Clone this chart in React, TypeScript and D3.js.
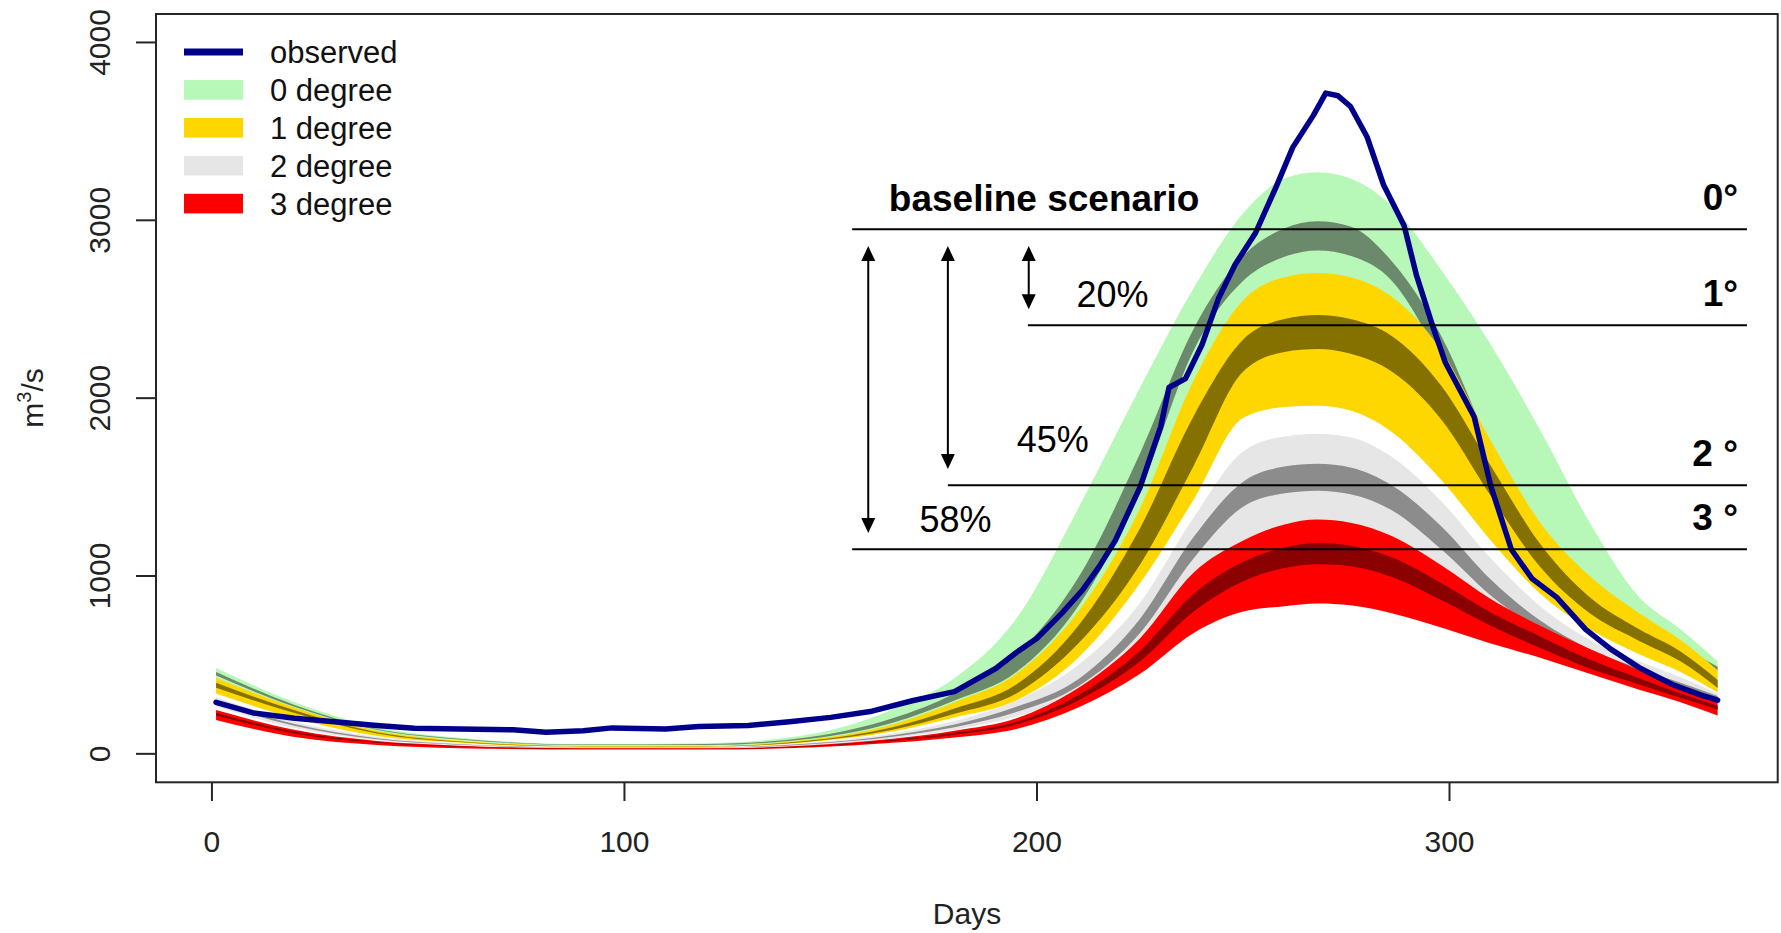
import React from "react";
import * as d3 from "d3";

// day of year at which the scenario band edges were read
const bandDays = [1, 20, 40, 60, 90, 120, 145, 165, 180, 195, 210, 225, 238, 250, 260, 268, 276, 286, 298, 310, 322, 334, 346, 356, 365];

const deg0Upper = [483, 290, 150, 90, 55, 60, 110, 250, 425, 760, 1380, 2060, 2620, 3040, 3235, 3270, 3235, 3080, 2720, 2300, 1820, 1300, 880, 700, 520];
const deg0InnerUpper = [460, 275, 140, 85, 52, 55, 95, 200, 340, 560, 990, 1690, 2390, 2800, 2955, 2995, 2965, 2770, 2350, 1725, 1180, 900, 730, 605, 490];
const deg0InnerLower = [440, 265, 135, 80, 50, 50, 85, 175, 300, 460, 830, 1480, 2270, 2660, 2795, 2830, 2800, 2660, 2200, 1580, 1060, 840, 690, 575, 470];
const deg0Lower = [420, 250, 125, 75, 45, 45, 75, 150, 260, 400, 700, 1250, 1980, 2390, 2520, 2550, 2520, 2390, 1980, 1420, 980, 780, 650, 545, 450];

const deg1Upper = [427, 260, 130, 75, 45, 45, 80, 165, 290, 450, 800, 1380, 2100, 2550, 2680, 2703, 2680, 2570, 2270, 1760, 1300, 1000, 790, 640, 470];
const deg1InnerUpper = [400, 245, 122, 70, 43, 43, 75, 150, 255, 390, 720, 1270, 1900, 2330, 2445, 2467, 2445, 2350, 2070, 1620, 1180, 880, 700, 575, 415];
const deg1InnerLower = [371, 230, 115, 66, 41, 41, 70, 135, 225, 340, 620, 1065, 1620, 2150, 2260, 2276, 2250, 2150, 1880, 1450, 1050, 790, 635, 520, 370];
const deg1Lower = [340, 200, 100, 62, 40, 40, 66, 125, 205, 300, 540, 960, 1430, 1890, 1950, 1957, 1930, 1810, 1540, 1200, 900, 700, 560, 460, 345];

const deg2Upper = [320, 180, 95, 58, 38, 38, 62, 115, 185, 300, 500, 850, 1330, 1700, 1785, 1800, 1780, 1670, 1420, 1100, 830, 640, 520, 430, 340];
const deg2InnerUpper = [300, 168, 88, 54, 36, 36, 58, 105, 165, 265, 420, 760, 1220, 1530, 1615, 1631, 1610, 1510, 1280, 980, 750, 590, 480, 400, 325];
const deg2InnerLower = [285, 158, 82, 51, 34, 34, 54, 96, 150, 235, 380, 680, 1100, 1390, 1465, 1480, 1460, 1370, 1150, 890, 690, 545, 445, 375, 305];
const deg2Lower = [265, 145, 76, 48, 32, 32, 50, 88, 135, 210, 340, 600, 970, 1180, 1250, 1265, 1250, 1180, 1000, 780, 610, 490, 410, 345, 290];

const deg3Upper = [247, 135, 72, 46, 31, 31, 48, 85, 130, 200, 370, 650, 1020, 1200, 1290, 1317, 1300, 1225, 1060, 870, 720, 590, 470, 375, 290];
const deg3InnerUpper = [230, 125, 67, 43, 29, 29, 44, 78, 118, 180, 330, 580, 900, 1080, 1160, 1187, 1170, 1105, 960, 795, 660, 530, 425, 340, 270];
const deg3InnerLower = [215, 115, 62, 40, 27, 27, 41, 72, 108, 165, 300, 520, 800, 970, 1045, 1066, 1055, 995, 865, 720, 595, 480, 390, 315, 250];
const deg3Lower = [191, 95, 50, 32, 24, 24, 36, 62, 92, 140, 260, 450, 680, 800, 830, 845, 835, 790, 710, 620, 540, 450, 360, 290, 215];

// observed discharge
const obsDays = [1, 10, 20, 29, 40, 49, 60, 73, 81, 90, 97, 110, 118, 130, 140, 150, 160, 170, 180, 190, 195, 200, 206, 211, 215, 219, 225, 230, 232, 236, 240, 244, 248, 253, 258, 262, 267, 270, 273, 276, 280, 284, 289, 292, 296, 299, 306, 310, 315, 320, 326, 333, 339, 346, 354, 361, 365];
const obsValues = [290, 230, 200, 182, 160, 144, 140, 135, 122, 130, 146, 140, 154, 160, 180, 205, 240, 300, 350, 480, 570, 650, 790, 920, 1050, 1200, 1500, 1840, 2060, 2110, 2300, 2560, 2750, 2930, 3190, 3410, 3590, 3715, 3700, 3640, 3470, 3200, 2970, 2690, 2400, 2200, 1894, 1507, 1149, 985, 880, 700, 590, 485, 390, 330, 302];

const legendLabels = ["observed", "0 degree", "1 degree", "2 degree", "3 degree"];
const xTicks = [0, 100, 200, 300];
const yTicks = [0, 1000, 2000, 3000, 4000];

// reference levels of the peak for each warming step
const levelLabels = ["0°", "1°", "2 °", "3 °"];
const levelValues = [2950, 2410, 1510, 1150];
const levelStartDays = [155.2, 197.8, 178.4, 155.2];
const levelEndDay = 372.1;

const arrowLabels = ["20%", "45%", "58%"];
const arrowDays = [198, 178.4, 159.1];
const arrowTops = [2855, 2855, 2855];
const arrowBottoms = [2500, 1602, 1242];
const arrowLabelDays = [209.6, 195.1, 171.5];
const arrowLabelValues = [2514, 1699, 1249];

const FONT = "'Liberation Sans', Arial, Helvetica, sans-serif";

export default function App() {
  const W = 1781, H = 933;
  const x = d3.scaleLinear().domain([-13.56, 379.56]).range([156, 1777.7]);
  const y = d3.scaleLinear().domain([-160, 4160]).range([782.3, 14]);

  const band = (lo: number[], hi: number[]) =>
    d3.area<number>()
      .x((d) => x(d))
      .y0((d, i) => y(lo[i]))
      .y1((d, i) => y(hi[i]))
      .curve(d3.curveMonotoneX)(bandDays) as string;

  const bands = [
    { lo: deg0Lower, hi: deg0Upper, color: "#b7f7b7" },
    { lo: deg0InnerLower, hi: deg0InnerUpper, color: "#6b8a6b" },
    { lo: deg1Lower, hi: deg1Upper, color: "#ffd700" },
    { lo: deg1InnerLower, hi: deg1InnerUpper, color: "#857100" },
    { lo: deg2Lower, hi: deg2Upper, color: "#e6e6e6" },
    { lo: deg2InnerLower, hi: deg2InnerUpper, color: "#8c8c8c" },
    { lo: deg3Lower, hi: deg3Upper, color: "#ff0000" },
    { lo: deg3InnerLower, hi: deg3InnerUpper, color: "#8b0000" },
  ];

  const obsLine = d3.line<number>()
    .x((d) => x(d))
    .y((d, i) => y(obsValues[i]))
    .curve(d3.curveLinear)(obsDays) as string;

  const legendColors = ["#00008b", "#b7f7b7", "#ffd700", "#e6e6e6", "#ff0000"];

  const arrowHead = (px: number, py: number, dir: number) =>
    `M${px},${py} L${px - 7},${py - dir * 15} L${px + 7},${py - dir * 15} Z`;

  return (
    <div style={{ position: "absolute", left: 0, top: 0 }}>
      <svg width={W} height={H} style={{ display: "block", background: "#fff" }} fontFamily={FONT}>
        {bands.map((b, i) => (
          <path key={i} d={band(b.lo, b.hi)} fill={b.color} stroke="none" />
        ))}
        <path d={obsLine} fill="none" stroke="#00008b" strokeWidth={5.5} strokeLinejoin="round" strokeLinecap="round" />

        {/* plot frame */}
        <rect x={156} y={14} width={1777.7 - 156} height={782.3 - 14} fill="none" stroke="#262626" strokeWidth={2} />

        {/* y axis */}
        {yTicks.map((t) => (
          <g key={t}>
            <line x1={136} x2={156} y1={y(t)} y2={y(t)} stroke="#262626" strokeWidth={2} />
            <text transform={`translate(110,${y(t)}) rotate(-90)`} textAnchor="middle" fontSize={30} fill="#222">{t}</text>
          </g>
        ))}
        {/* x axis */}
        {xTicks.map((t) => (
          <g key={t}>
            <line x1={x(t)} x2={x(t)} y1={782.3} y2={801} stroke="#262626" strokeWidth={2} />
            <text x={x(t)} y={851.5} textAnchor="middle" fontSize={30} fill="#222">{t}</text>
          </g>
        ))}
        <text x={967} y={924} textAnchor="middle" fontSize={30} fill="#222">Days</text>
        <text transform="translate(43,398) rotate(-90)" textAnchor="middle" fontSize={30} fill="#222">
          m<tspan dy={-12} fontSize={20}>3</tspan><tspan dy={12}>/s</tspan>
        </text>

        {/* legend */}
        {legendLabels.map((lab, i) => {
          const cy = 52 + i * 37.9;
          return (
            <g key={lab}>
              {i === 0 ? (
                <line x1={184} x2={243} y1={cy} y2={cy} stroke={legendColors[i]} strokeWidth={7} />
              ) : (
                <rect x={184} y={cy - 9.8} width={59} height={19.6} fill={legendColors[i]} />
              )}
              <text x={270} y={cy + 11} fontSize={31} fill="#111">{lab}</text>
            </g>
          );
        })}

        {/* annotation: reference levels */}
        {levelValues.map((v, i) => (
          <g key={i}>
            <line x1={x(levelStartDays[i])} x2={x(levelEndDay)} y1={y(v)} y2={y(v)} stroke="#000" strokeWidth={2} />
            <text x={1738} y={y(v) - 19} textAnchor="end" fontSize={37} fontWeight="bold" fill="#000">{levelLabels[i]}</text>
          </g>
        ))}
        <text x={888.8} y={y(levelValues[0]) - 18} fontSize={37} fontWeight="bold" fill="#000">baseline scenario</text>

        {/* annotation: reduction arrows */}
        {arrowDays.map((d, i) => {
          const ax = x(d), y1 = y(arrowTops[i]), y2 = y(arrowBottoms[i]);
          return (
            <g key={i}>
              <line x1={ax} x2={ax} y1={y1 + 12} y2={y2 - 12} stroke="#000" strokeWidth={2} />
              <path d={arrowHead(ax, y1, -1)} fill="#000" />
              <path d={arrowHead(ax, y2, 1)} fill="#000" />
              <text x={x(arrowLabelDays[i])} y={y(arrowLabelValues[i])} fontSize={36} fill="#000">{arrowLabels[i]}</text>
            </g>
          );
        })}
      </svg>
    </div>
  );
}
